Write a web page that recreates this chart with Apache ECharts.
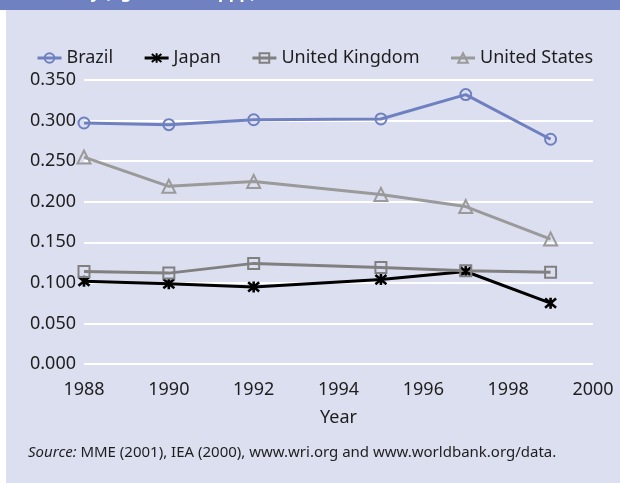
<!DOCTYPE html>
<html>
<head>
<meta charset="utf-8">
<script src="https://cdn.jsdelivr.net/npm/echarts@6/dist/echarts.min.js"></script>
<style>
  html, body { margin: 0; padding: 0; background: #fff; }
  #chart { width: 620px; height: 483px; }
</style>
</head>
<body>
<div id="chart"></div>
<script>
// CO2 intensity by country
const years = [1988, 1990, 1992, 1995, 1997, 1999]
const brazil = [0.297, 0.295, 0.301, 0.302, 0.332, 0.277]
const japan = [0.102, 0.099, 0.095, 0.104, 0.114, 0.075]
const unitedKingdom = [0.114, 0.112, 0.124, 0.119, 0.115, 0.113]
const unitedStates = [0.255, 0.219, 0.225, 0.209, 0.194, 0.154]
const seriesNames = ["Brazil", "Japan", "United Kingdom", "United States"]

const FONT = "Noto Sans"
const BG = "#dcdff0"
const BANNER = "#6f81c0"
const TEXT = "#1e1e1e"

const star = "path://M0,0L10,10M10,0L0,10M5,-1L5,11"

const pairs = (vals) => years.map((y, i) => [y, vals[i]])

function lineSeries(name, vals, color, symbol, size, border) {
  return {
    name,
    type: "line",
    data: pairs(vals),
    symbol,
    symbolSize: size,
    lineStyle: { color, width: 3 },
    itemStyle: { color: "rgba(0,0,0,0)", borderColor: color, borderWidth: border || 2 },
    emphasis: { disabled: true },
  }
}

const chart = echarts.init(document.getElementById("chart"), null, { renderer: "canvas" })

chart.setOption({
  animation: false,
  backgroundColor: BG,
  textStyle: { fontFamily: FONT },
  graphic: [
    { type: "rect", shape: { x: 0, y: 0, width: 6, height: 483 }, style: { fill: "#fff" }, silent: true },
    { type: "rect", shape: { x: 0, y: 0, width: 620, height: 10 }, style: { fill: BANNER }, silent: true },
    {
      type: "text", x: 256, y: 2, silent: true,
      style: {
        text: "Carbon intensity (kg CO2/US$, ppp)",
        fill: "#fff", font: "bold 17px 'Noto Sans'",
        align: "right", verticalAlign: "bottom",
      },
    },
    {
      type: "text", x: 28, y: 453, silent: true,
      style: {
        text: "{i|Source:} MME (2001), IEA (2000), www.wri.org and www.worldbank.org/data.",
        fill: TEXT, font: "15px 'Noto Sans'", verticalAlign: "middle",
        rich: { i: { fontStyle: "italic", fontSize: 15, fontFamily: FONT, fill: TEXT } },
      },
    },
  ],
  legend: {
    data: seriesNames,
    left: 31,
    top: 44,
    itemGap: 30,
    itemWidth: 24,
    itemHeight: 12,
    lineStyle: { width: 3 },
    textStyle: { color: TEXT, fontSize: 18, fontFamily: FONT },
  },
  grid: { left: 84, right: 27, top: 80, bottom: 119 },
  xAxis: {
    type: "value",
    min: 1988,
    max: 2000,
    interval: 2,
    name: "Year",
    nameLocation: "middle",
    nameGap: 45,
    nameTextStyle: { color: TEXT, fontSize: 18 },
    axisLine: { show: false },
    axisTick: { show: false },
    axisLabel: { color: TEXT, fontSize: 18, margin: 17, formatter: (v) => String(v) },
    splitLine: { show: false },
  },
  yAxis: {
    type: "value",
    min: 0,
    max: 0.35,
    interval: 0.05,
    axisLine: { show: false },
    axisTick: { show: false },
    axisLabel: { color: TEXT, fontSize: 18, margin: 8, formatter: (v) => v.toFixed(3) },
    splitLine: { lineStyle: { color: "#ffffff", width: 2 } },
  },
  series: [
    lineSeries("Brazil", brazil, "#6f80c0", "circle", 11),
    lineSeries("Japan", japan, "#000000", star, 11, 2.6),
    lineSeries("United Kingdom", unitedKingdom, "#808080", "rect", 11),
    lineSeries("United States", unitedStates, "#9a9a9a", "triangle", 13),
  ],
})
</script>
</body>
</html>
